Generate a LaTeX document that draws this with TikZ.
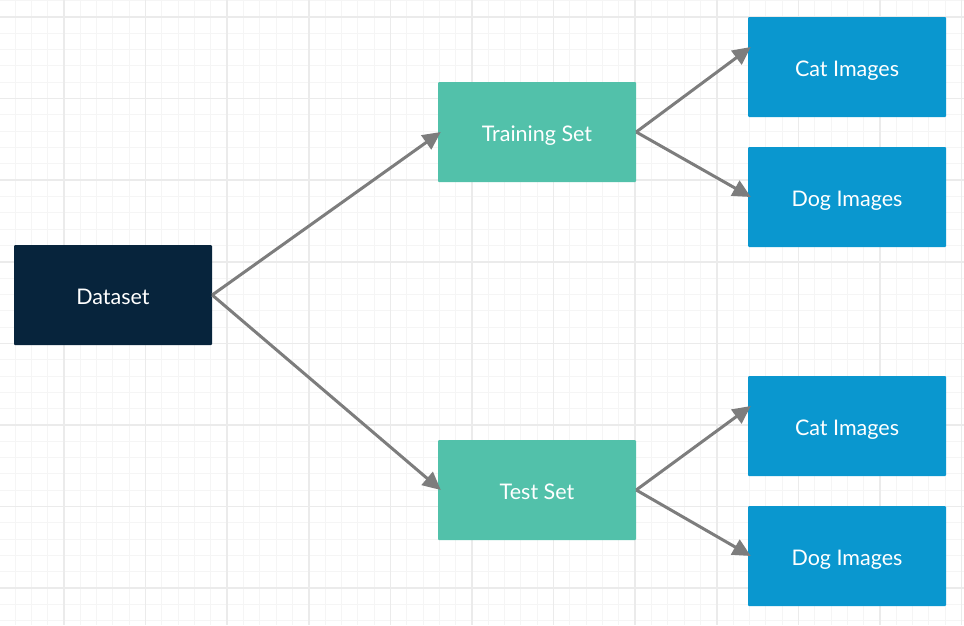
\documentclass[tikz,border=0pt]{standalone}
\usepackage{fontspec}
\setmainfont{Lato}
\usepackage{xcolor}
\usetikzlibrary{arrows.meta, positioning}

\definecolor{navy}{HTML}{07243C}
\definecolor{teal}{HTML}{52C1AA}
\definecolor{skyblue}{HTML}{0A97CF}
\definecolor{arrowgray}{HTML}{7D7D7D}

\begin{document}
\begin{tikzpicture}[
    x=1pt, y=-1pt,
    block/.style={
        rectangle, rounded corners=1pt,
        minimum width=198pt, minimum height=100pt,
        text centered, text=white, text depth=0pt, text height=19pt,
        font=\fontsize{21.5}{25}\selectfont
    },
    gridminor/.style={draw=black!4, line width=1pt},
    gridmajor/.style={draw=black!8, line width=1.6pt},
    arrow/.style={-{Triangle[length=18pt, width=17pt]}, draw=arrowgray, line width=3pt},
]
\useasboundingbox (0,0) rectangle (964,625);
\fill[white] (0,0) rectangle (964,625);

%% Griglia di sfondo
\foreach \i in {0,...,60}
    \draw[gridminor] ({-1.28+16.32*\i},0) -- ++(0,625);
\foreach \j in {0,...,39}
    \draw[gridminor] (0,{0.68+16.32*\j}) -- ++(964,0);
\foreach \k in {0,...,11}
    \draw[gridmajor] ({64+81.6*\k},0) -- ++(0,625);
\foreach \k in {0,...,7}
    \draw[gridmajor] (0,{17+81.6*\k}) -- ++(964,0);

%% Dataset
\node[block, fill=navy] (dataset) at (113,295) {Dataset};

%% Training / Test
\node[block, fill=teal] (train) at (537,132) {Training Set};
\node[block, fill=teal] (test) at (537,490) {Test Set};

%% Classi
\node[block, fill=skyblue] (traincat) at (847,67) {Cat Images};
\node[block, fill=skyblue] (traindog) at (847,197) {Dog Images};
\node[block, fill=skyblue] (testcat) at (847,426) {Cat Images};
\node[block, fill=skyblue] (testdog) at (847,556) {Dog Images};

%% Frecce
\draw[arrow] (dataset.east) -- ([xshift=3pt]train.west);
\draw[arrow] (dataset.east) -- ([xshift=3pt]test.west);
\draw[arrow] (train.east) -- ([shift={(3pt,20pt)}]traincat.west);
\draw[arrow] (train.east) -- ([xshift=3pt]traindog.west);
\draw[arrow] (test.east) -- ([shift={(3pt,20pt)}]testcat.west);
\draw[arrow] (test.east) -- ([xshift=3pt]testdog.west);

\end{tikzpicture}
\end{document}
